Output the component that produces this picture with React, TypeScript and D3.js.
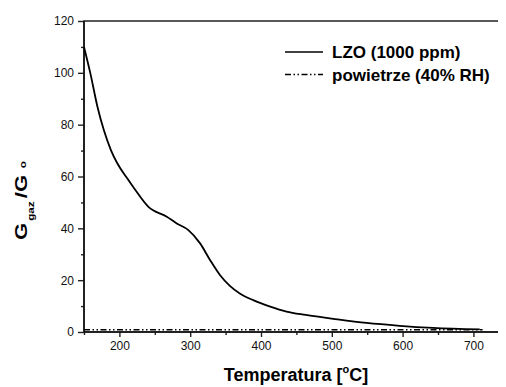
import React, { useEffect, useRef } from 'react';
import * as d3 from 'd3';

// LZO (1000 ppm) response
const lzoTemps = [150, 159, 169, 178, 188, 197, 211, 221, 241, 267, 281, 297, 314, 328, 342, 356, 370, 389, 413, 436, 460, 483, 502, 549, 596, 643, 709];
const lzoValues = [110, 99.8, 86.9, 77.9, 70.2, 65.1, 59.3, 55.4, 48.3, 44.5, 41.9, 39.4, 34.2, 27.8, 22, 17.8, 14.9, 12.3, 9.8, 7.9, 6.7, 5.8, 5.1, 3.5, 2.4, 1.6, 1.0];

// air baseline (40% RH)
const airTemps = [150, 713];
const airValues = [0.9, 0.9];

const xTicks = [200, 300, 400, 500, 600, 700];
const yTicks = [0, 20, 40, 60, 80, 100, 120];

const legendLabels = ['LZO (1000 ppm)', 'powietrze (40% RH)'];

const App = () => {
  const svgRef = useRef(null);

  useEffect(() => {
    const svg = d3.select(svgRef.current);
    svg.selectAll('*').remove();

    const font = 'Liberation Sans, Arial, sans-serif';
    const x = d3.scaleLinear().domain([150, 750]).range([84, 508.8]);
    const y = d3.scaleLinear().domain([0, 120]).range([332, 21]);

    // frame (right side falls outside the picture)
    svg.append('rect')
      .attr('x', x(150))
      .attr('y', y(120))
      .attr('width', x(750) - x(150))
      .attr('height', y(0) - y(120))
      .attr('fill', 'none')
      .attr('stroke', '#222')
      .attr('stroke-width', 1.5);

    // minor ticks
    const xMinor = svg.append('g')
      .attr('transform', `translate(0,${y(0)})`)
      .call(d3.axisBottom(x).tickValues([150, 250, 350, 450, 550, 650, 750]).tickSize(3).tickFormat(() => ''));
    xMinor.select('.domain').remove();
    const yMinor = svg.append('g')
      .attr('transform', `translate(${x(150)},0)`)
      .call(d3.axisLeft(y).tickValues([10, 30, 50, 70, 90, 110]).tickSize(3).tickFormat(() => ''));
    yMinor.select('.domain').remove();

    // major axes
    const xAxis = svg.append('g')
      .attr('transform', `translate(0,${y(0)})`)
      .call(d3.axisBottom(x).tickValues(xTicks).tickSize(5).tickPadding(4).tickFormat(d3.format('d')));
    xAxis.select('.domain').remove();
    const yAxis = svg.append('g')
      .attr('transform', `translate(${x(150)},0)`)
      .call(d3.axisLeft(y).tickValues(yTicks).tickSize(6).tickPadding(4).tickFormat(d3.format('d')));
    yAxis.select('.domain').remove();

    [xAxis, yAxis, xMinor, yMinor].forEach(a => {
      a.selectAll('line').attr('stroke', '#222').attr('stroke-width', 1.4);
      a.selectAll('text')
        .attr('fill', '#111')
        .style('font-family', font)
        .style('font-size', '12px');
    });

    // axis lines on top
    svg.append('line')
      .attr('x1', x(150)).attr('x2', x(750))
      .attr('y1', y(0)).attr('y2', y(0))
      .attr('stroke', '#111').attr('stroke-width', 1.5);
    svg.append('line')
      .attr('x1', x(150)).attr('x2', x(150))
      .attr('y1', y(0)).attr('y2', y(120))
      .attr('stroke', '#111').attr('stroke-width', 1.5);

    // series
    const lzo = lzoTemps.map((t, i) => [t, lzoValues[i]]);
    const air = airTemps.map((t, i) => [t, airValues[i]]);
    const line = d3.line()
      .x(d => x(d[0]))
      .y(d => y(d[1]))
      .curve(d3.curveMonotoneX);

    const airDash = '6,2.5,1.5,2.5,1.5,2.5';

    svg.append('path')
      .datum(air)
      .attr('fill', 'none')
      .attr('stroke', '#000')
      .attr('stroke-width', 1.5)
      .attr('stroke-dasharray', airDash)
      .attr('d', line);

    svg.append('path')
      .datum(lzo)
      .attr('fill', 'none')
      .attr('stroke', '#000')
      .attr('stroke-width', 1.8)
      .attr('d', line);

    // legend
    const legend = svg.append('g');
    legendLabels.forEach((label, i) => {
      const ly = 52 + i * 22.5;
      const sample = legend.append('line')
        .attr('x1', 285).attr('x2', 323)
        .attr('y1', ly).attr('y2', ly)
        .attr('stroke', '#000')
        .attr('stroke-width', 1.6);
      if (i === 1) sample.attr('stroke-dasharray', airDash);
      legend.append('text')
        .attr('x', 332)
        .attr('y', ly + 6)
        .style('font-family', font)
        .style('font-size', '17px')
        .style('font-weight', 'bold')
        .text(label);
    });

    // x title
    const xt = svg.append('text')
      .attr('x', 296)
      .attr('y', 381)
      .attr('text-anchor', 'middle')
      .style('font-family', font)
      .style('font-size', '18px')
      .style('font-weight', 'bold');
    xt.append('tspan').text('Temperatura [');
    xt.append('tspan').attr('dy', -8).style('font-size', '11px').text('o');
    xt.append('tspan').attr('dy', 8).text('C]');

    // y title (wide glyphs, as in the original)
    const yt = svg.append('text')
      .attr('transform', 'translate(27,240) rotate(-90) scale(1.3,1)')
      .attr('text-anchor', 'start')
      .style('font-family', font)
      .style('font-size', '17px')
      .style('font-weight', 'bold');
    yt.append('tspan').text('G');
    yt.append('tspan').attr('dy', 6.5).attr('dx', 1.5).style('font-size', '9px').text('gaz');
    yt.append('tspan').attr('dy', -6.5).attr('dx', 2.5).text('/G');
    yt.append('tspan').attr('dy', -1).attr('dx', 5).style('font-size', '9px').text('o');
  }, []);

  return (
    <svg
      ref={svgRef}
      width={506}
      height={387}
      style={{ display: 'block', margin: '-8px 0 0 -8px', background: '#fff' }}
    />
  );
};

export default App;
